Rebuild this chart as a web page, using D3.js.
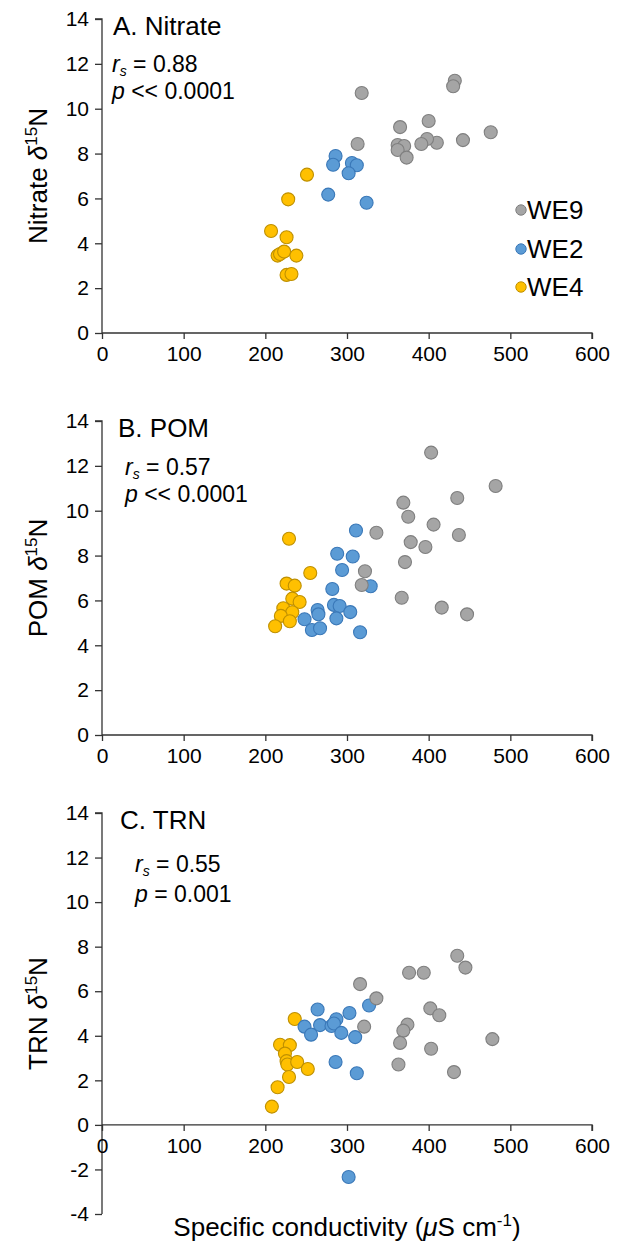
<!DOCTYPE html>
<html><head><meta charset="utf-8">
<script src="https://cdn.jsdelivr.net/npm/d3@7"></script>
<style>
body{margin:0;background:#fff}
text{font-family:"Liberation Sans", Arial, sans-serif;fill:#000}
</style>
</head><body>
<svg id="chart" width="619" height="1246"></svg>
<script>
// ---------- data ----------
const xTicks = [0,100,200,300,400,500,600];
const yTicksAB = [0,2,4,6,8,10,12,14];
const yTicksC = [-4,-2,0,2,4,6,8,10,12,14];
const seriesNames = ["WE9","WE2","WE4"];
const seriesFill = ["#A5A5A5","#5B9BD5","#FFC000"];
const seriesStroke = ["#7F7F7F","#3A78B8","#BF9000"];

// Panel A: Nitrate δ15N  [conductivity, δ15N]
const nitrateWE9 = [[318,10.7],[432,11.25],[430,11.0],[313,8.43],[365,9.18],[400,9.45],[476,8.95],[442,8.6],[410,8.48],[398,8.65],[391,8.43],[362,8.38],[370,8.34],[362,8.16],[373,7.82]];
const nitrateWE2 = [[286,7.89],[283,7.5],[306,7.58],[312,7.48],[302,7.12],[277,6.17],[324,5.81]];
const nitrateWE4 = [[251,7.06],[228,5.96],[207,4.55],[226,4.27],[215,3.45],[218,3.52],[223,3.63],[238,3.45],[226,2.59],[232,2.63]];

// Panel B: POM δ15N
const pomWE9 = [[403,12.59],[482,11.1],[369,10.36],[435,10.57],[375,9.73],[406,9.38],[437,8.92],[336,9.02],[378,8.6],[396,8.38],[371,7.71],[322,7.3],[318,6.69],[367,6.12],[416,5.68],[447,5.38]];
const pomWE2 = [[311,9.12],[288,8.08],[307,7.96],[294,7.36],[329,6.63],[282,6.51],[284,5.8],[291,5.75],[264,5.57],[265,5.38],[304,5.48],[287,5.2],[248,5.16],[257,4.68],[267,4.76],[316,4.58]];
const pomWE4 = [[229,8.75],[255,7.22],[226,6.75],[236,6.66],[233,6.08],[242,5.93],[222,5.65],[233,5.47],[219,5.31],[230,5.07],[212,4.85]];

// Panel C: TRN δ15N
const trnWE9 = [[435,7.59],[445,7.06],[376,6.83],[394,6.83],[316,6.32],[336,5.68],[402,5.23],[413,4.92],[321,4.41],[374,4.5],[369,4.23],[365,3.68],[403,3.42],[478,3.85],[363,2.71],[431,2.37]];
const trnWE2 = [[264,5.18],[303,5.02],[327,5.36],[248,4.41],[267,4.48],[256,4.05],[281,4.44],[287,4.74],[284,4.55],[293,4.13],[310,3.94],[286,2.82],[312,2.32],[302,-2.34]];
const trnWE4 = [[236,4.75],[218,3.6],[230,3.58],[224,3.2],[226,2.86],[227,2.71],[239,2.82],[252,2.51],[229,2.15],[215,1.69],[208,0.82]];

const panelTitles = ["A. Nitrate","B. POM","C. TRN"];
const yAxisNames = ["Nitrate","POM","TRN"];
const rsValues = ["0.88","0.57","0.55"];
const pValues = ["<< 0.0001","<< 0.0001","= 0.001"];
const xAxisTitle = "Specific conductivity (";

// ---------- layout ----------
const svg = d3.select("#chart");
const panels = [
  {series:[nitrateWE9,nitrateWE2,nitrateWE4], yDom:[0,14], yRange:[333,19], ticks:yTicksAB, titleX:113, statX:112, titleY:35, rsY:72, pY:99, legend:true},
  {series:[pomWE9,pomWE2,pomWE4], yDom:[0,14], yRange:[735,421], ticks:yTicksAB, titleX:118, statX:125, titleY:437, rsY:475, pY:502, legend:false},
  {series:[trnWE9,trnWE2,trnWE4], yDom:[-4,14], yRange:[1214,813], ticks:yTicksC, titleX:120, statX:135, titleY:829, rsY:872, pY:902, legend:false}
];
const axisColor = "#333";

panels.forEach((P,i)=>{
  const x = d3.scaleLinear().domain([0,600]).range([102,592]);
  const y = d3.scaleLinear().domain(P.yDom).range(P.yRange);
  const g = svg.append("g");

  // y axis
  const ya = g.append("g").attr("transform","translate(102,0)")
    .call(d3.axisLeft(y).tickValues(P.ticks).tickSize(7).tickPadding(6).tickFormat(d=>String(d)));
  // x axis at y=0
  const xa = g.append("g").attr("transform",`translate(0,${y(0)})`)
    .call(d3.axisBottom(x).tickValues(xTicks).tickSize(6).tickPadding(7).tickFormat(d=>String(d)));
  [ya,xa].forEach(a=>{
    a.select(".domain").attr("stroke",axisColor).attr("stroke-width",1.3);
    a.selectAll(".tick line").attr("stroke",axisColor).attr("stroke-width",1.3);
    a.selectAll("text").style("font-size","21px").attr("fill","#000").style("font-family",'"Liberation Sans", Arial, sans-serif');
  });
  xa.select(".domain").attr("d",`M102,0H592V6`);
  ya.select(".domain").attr("d",`M0,${P.yRange[0]}V${P.yRange[1]}H-7`);

  // points: draw WE4, WE2, then WE9
  [2,1,0].forEach(s=>{
    g.append("g").selectAll("circle").data(P.series[s]).join("circle")
      .attr("cx",d=>x(d[0])).attr("cy",d=>y(d[1])).attr("r",6.5)
      .attr("fill",seriesFill[s]).attr("stroke",seriesStroke[s]).attr("stroke-width",1.1);
  });

  // title
  g.append("text").attr("x",P.titleX).attr("y",P.titleY).style("font-size","26px").text(panelTitles[i]);
  // stats
  const t1 = g.append("text").attr("x",P.statX).attr("y",P.rsY).style("font-size","23px");
  t1.append("tspan").style("font-style","italic").text("r");
  t1.append("tspan").style("font-style","italic").style("font-size","14px").attr("dy",4).text("s");
  t1.append("tspan").attr("dy",-4).text(" = " + rsValues[i]);
  const t2 = g.append("text").attr("x",P.statX).attr("y",P.pY).style("font-size","23px");
  t2.append("tspan").style("font-style","italic").text("p");
  t2.append("tspan").text(" " + pValues[i]);

  // y axis title
  const cy = (P.yRange[0]+P.yRange[1])/2;
  const yt = g.append("text").attr("transform",`translate(47,${cy}) rotate(-90)`)
    .attr("text-anchor","middle").style("font-size","26px");
  yt.append("tspan").text(yAxisNames[i] + " ");
  yt.append("tspan").style("font-style","italic").text("δ");
  yt.append("tspan").style("font-size","17px").attr("dy",-10).text("15");
  yt.append("tspan").attr("dy",10).text("N");

  // legend
  if (P.legend) {
    const ly = [210,249,287];
    seriesNames.forEach((n,s)=>{
      g.append("circle").attr("cx",521).attr("cy",ly[s]).attr("r",5.2)
        .attr("fill",seriesFill[s]).attr("stroke",seriesStroke[s]).attr("stroke-width",1);
      g.append("text").attr("x",527).attr("y",ly[s]+9).style("font-size","26px").text(n);
    });
  }
});

// x axis title
const xt = svg.append("text").attr("x",347).attr("y",1236).attr("text-anchor","middle").style("font-size","26px");
xt.append("tspan").text(xAxisTitle);
xt.append("tspan").style("font-style","italic").text("μ");
xt.append("tspan").text("S cm");
xt.append("tspan").style("font-size","17px").attr("dy",-10).text("-1");
xt.append("tspan").attr("dy",10).text(")");
</script>
</body></html>
